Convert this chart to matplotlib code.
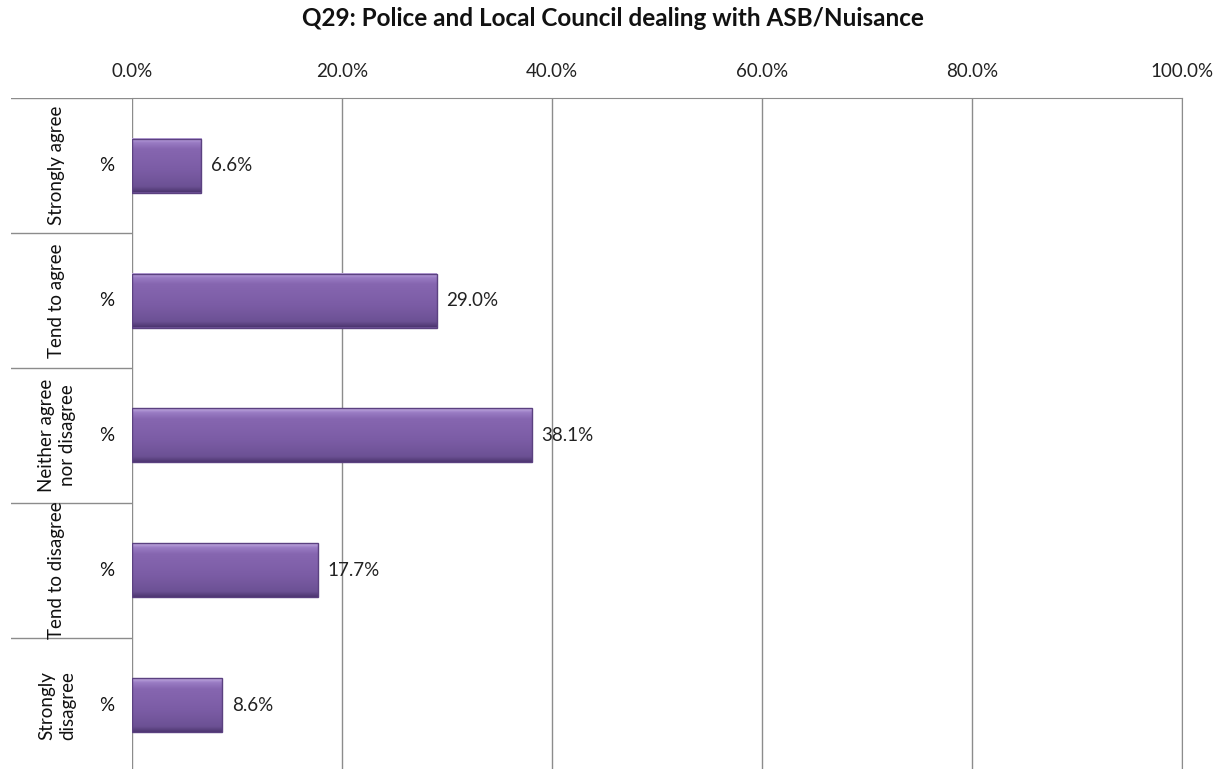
import numpy as np
import matplotlib.pyplot as plt
from matplotlib.colors import LinearSegmentedColormap

plt.rcParams['font.family'] = ['Lato', 'DejaVu Sans']

# Survey responses
categories = ["Strongly agree", "Tend to agree", "Neither agree\nnor disagree",
              "Tend to disagree", "Strongly\ndisagree"]
values = [6.6, 29.0, 38.1, 17.7, 8.6]
ticks = [0, 20, 40, 60, 80, 100]
tick_labels = ["0.0%", "20.0%", "40.0%", "60.0%", "80.0%", "100.0%"]

W, H = 1225, 769
fig = plt.figure(figsize=(W / 100, H / 100), dpi=100)

# plot area in pixels: x 132..1182, y 98..773
x0, x1, y0, y1 = 132, 1182, 98, 773
ax = fig.add_axes([x0 / W, 1 - y1 / H, (x1 - x0) / W, (y1 - y0) / H])

n = len(categories)
ypos = np.arange(n)

grid_col = "#8c8c8c"
for t in ticks:
    ax.axvline(t, color=grid_col, lw=1, zorder=0)

# bevelled purple bars
cmap = LinearSegmentedColormap.from_list(
    "bev", [(0.0, "#c4aee2"), (0.08, "#9a7cc4"), (0.2, "#8666b0"),
            (0.6, "#7b5ca5"), (0.9, "#6c5194"), (1.0, "#4d3670")])
grad = np.linspace(0, 1, 128).reshape(-1, 1)
bh = 0.4
bars = ax.barh(ypos, values, height=bh, color="#6c5194", zorder=1.5)
for b, v in zip(bars, values):
    x, y = b.get_x(), b.get_y()
    w, h = b.get_width(), b.get_height()
    ax.imshow(grad, cmap=cmap, aspect="auto", extent=[x, x + w, y + h, y],
              zorder=2, interpolation="bilinear")
    ax.add_patch(plt.Rectangle((x, y), w, h, fill=False, ec="#5b4180",
                               lw=1.0, zorder=3))
    ax.text(v + 0.9, y + h / 2, f"{v:.1f}%", va="center", ha="left",
            fontsize=13.5, color="#222222")
ax.set_xlim(0, 100)
ax.set_ylim(n - 0.5, -0.5)

ax.xaxis.tick_top()
ax.set_xticks(ticks)
ax.set_xticklabels(tick_labels, fontsize=13.5, color="#222222")
ax.tick_params(axis="x", length=0, pad=13)
ax.set_yticks([])
for s in ["bottom", "left"]:
    ax.spines[s].set_visible(False)
for s in ["top", "right"]:
    ax.spines[s].set_color(grid_col)

# left label column
lab_ax = fig.add_axes([11 / W, 1 - y1 / H, (x0 - 11) / W, (y1 - y0) / H],
                      sharey=ax)
lab_ax.set_xlim(0, 1)
lab_ax.axis("off")
lab_ax.axhline(-0.5, color=grid_col, lw=1)
for i in range(1, n):
    lab_ax.axhline(i - 0.5, color=grid_col, lw=1)
for i, c in enumerate(categories):
    lab_ax.text(0.38, i, c, rotation=90, ha="center", va="center",
                fontsize=13.5, color="#111111", linespacing=1.3)
    lab_ax.text(0.79, i, "%", ha="center", va="center", fontsize=13.5,
                color="#111111")

fig.text(0.5, 1 - 18 / H, "Q29: Police and Local Council dealing with ASB/Nuisance",
         ha="center", va="center", fontsize=17.5, fontweight="bold",
         color="#111111")

fig.savefig("out.png", dpi=100)
